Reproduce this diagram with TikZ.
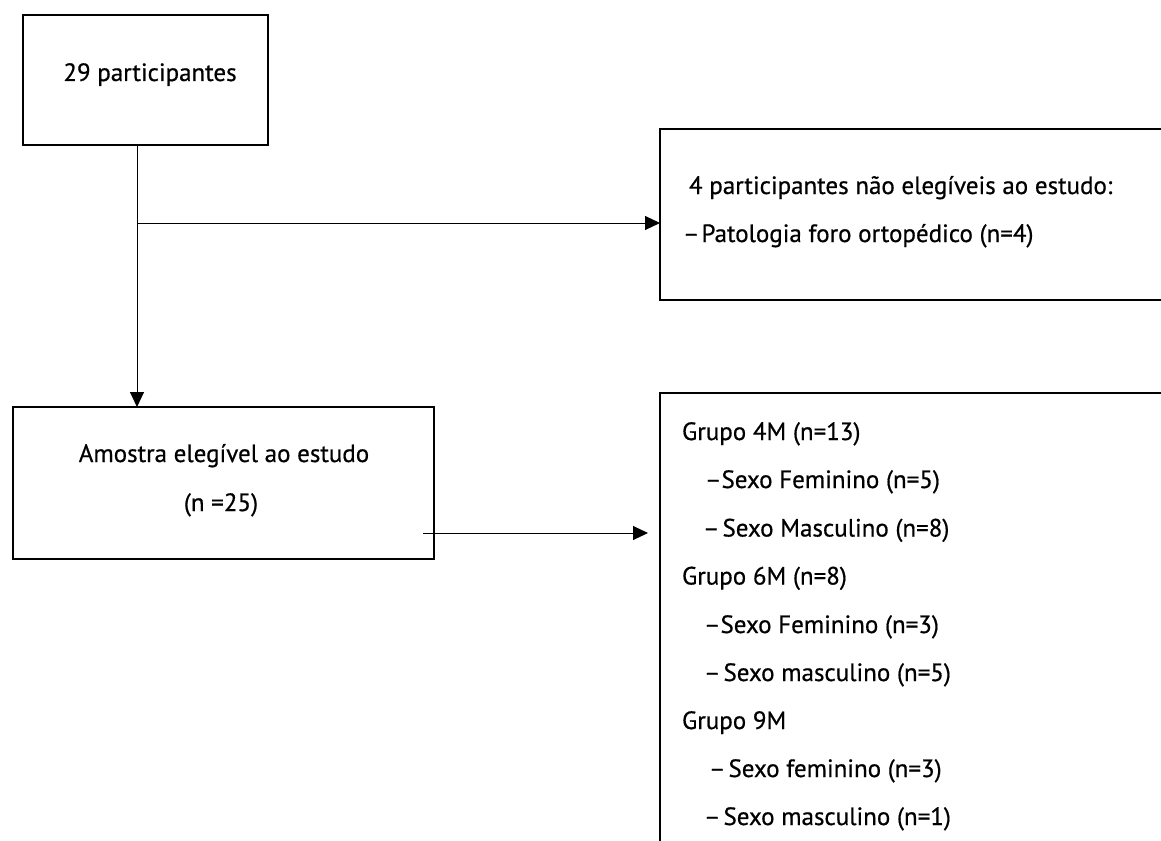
\documentclass[tikz,border=0pt]{standalone}
\usepackage{fontspec}
\setmainfont{PT Sans}[FakeBold=0.6]
\usetikzlibrary{arrows.meta}
\tikzset{
  box/.style={draw=black, line width=1.8pt, rectangle, inner sep=0pt, outer sep=0pt},
  txt/.style={inner sep=0pt, outer sep=0pt, font=\fontsize{25}{29}\selectfont},
  conn/.style={draw=black, line width=1pt},
  arr/.style={conn, -{Triangle[length=15pt,width=14pt]}}
}
\begin{document}
\begin{tikzpicture}[x=1pt,y=-1pt]
\useasboundingbox (0,0) rectangle (1161,840);
\clip (0,0) rectangle (1161,840);
% boxes
\node[box, minimum width=245pt, minimum height=130pt] (b1) at (145.5,80) {};
\node[box, minimum width=421pt, minimum height=152pt] (b2) at (223.5,483) {};
\node[box, minimum width=515pt, minimum height=171pt] (b3) at (917.5,214.5) {};
\node[box, minimum width=515pt, minimum height=467pt] (b4) at (917.5,626.5) {};
% texts
\node[txt, anchor=base] (t1) at (150,81) {29 participantes};
\node[txt, anchor=base] (t2a) at (224,462) {Amostra elegível ao estudo};
\node[txt, anchor=base] (t2b) at (221,511) {(n =25)};
\node[txt, anchor=base west] (t3a) at (689,194) {4 participantes não elegíveis ao estudo:};
\node[txt, anchor=base west] (t3b) at (683,242) {–\kern2pt Patologia foro ortopédico (n=4)};
\node[txt, anchor=base west] (g1) at (682,440) {Grupo 4M (n=13)};
\node[txt, anchor=base west] (g1f) at (705,488) {–Sexo Feminino (n=5)};
\node[txt, anchor=base west] (g1m) at (703,536.5) {–\kern3pt Sexo Masculino (n=8)};
\node[txt, anchor=base west] (g2) at (682,584.5) {Grupo 6M (n=8)};
\node[txt, anchor=base west] (g2f) at (704,633) {–Sexo Feminino (n=3)};
\node[txt, anchor=base west] (g2m) at (704,681) {–\kern3pt Sexo masculino (n=5)};
\node[txt, anchor=base west] (g3) at (682,729) {Grupo 9M};
\node[txt, anchor=base west] (g3f) at (709,777) {–\kern3pt Sexo feminino (n=3)};
\node[txt, anchor=base west] (g3m) at (704,825) {–\kern3pt Sexo masculino (n=1)};
% connectors
\coordinate (j) at (137,223);
\coordinate (s) at (423,533);
\draw[arr] (b1.south -| j) -- (b2.north -| j);
\draw[arr] (j) -- (b3.west |- j);
\draw[arr] (s) -- ([xshift=-12pt]b4.west |- s);
\end{tikzpicture}
\end{document}
